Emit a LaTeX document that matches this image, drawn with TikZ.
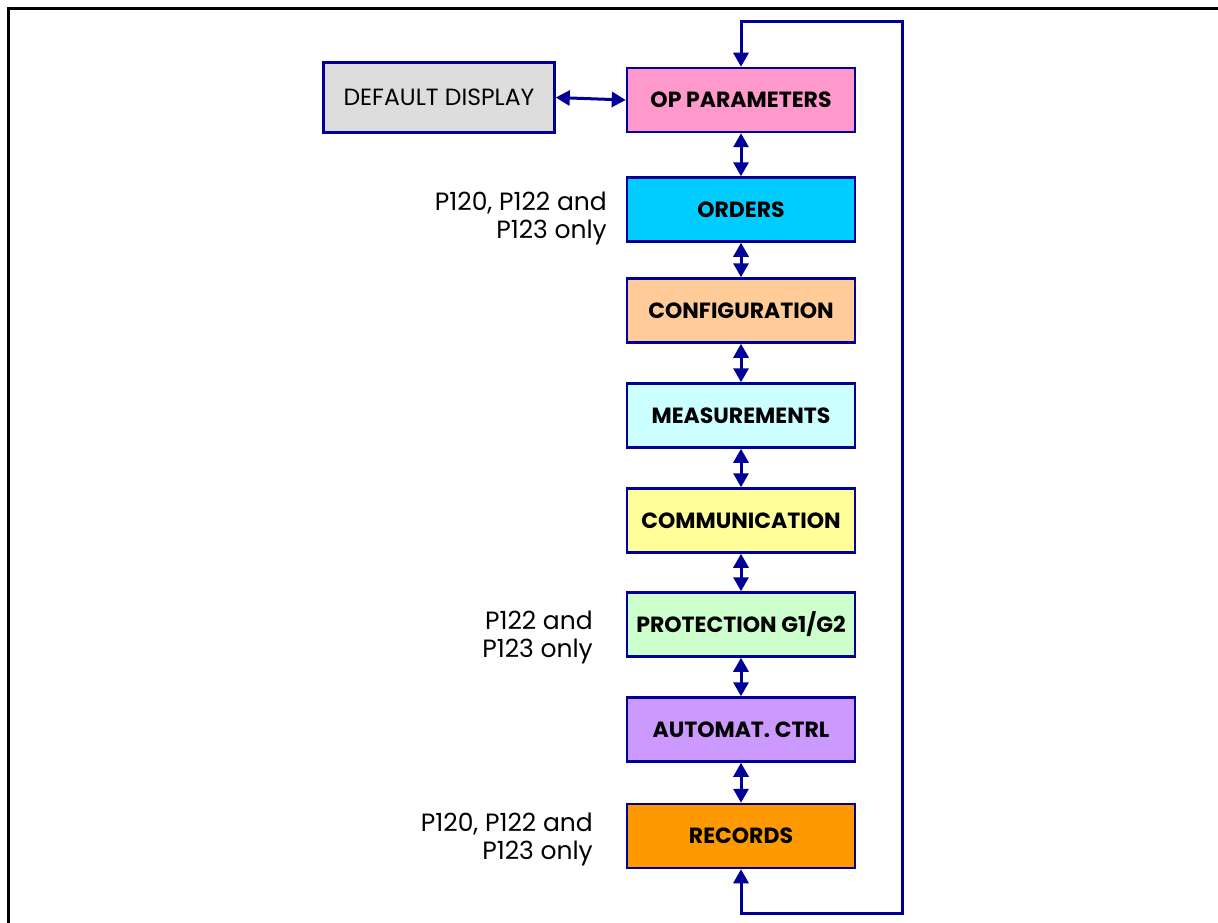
\documentclass[tikz,border=0pt]{standalone}
\usepackage{fontspec}
\setmainfont{Poppins}
\usetikzlibrary{arrows.meta}
\definecolor{navy}{HTML}{000099}
\definecolor{cdef}{HTML}{DDDDDD}
\definecolor{cop}{HTML}{FF99CC}
\definecolor{cord}{HTML}{00CCFF}
\definecolor{ccfg}{HTML}{FFCC99}
\definecolor{cmea}{HTML}{CCFFFF}
\definecolor{ccom}{HTML}{FFFF99}
\definecolor{cpro}{HTML}{CCFFCC}
\definecolor{caut}{HTML}{CC99FF}
\definecolor{crec}{HTML}{FF9900}
\tikzset{
  menubox/.style={draw=navy, line width=2.5pt, minimum width=228pt, minimum height=64pt,
    inner sep=0pt, font=\fontsize{22}{26}\selectfont\bfseries},
  defbox/.style={menubox, font=\fontsize{23.5}{27}\selectfont},
  dbl/.style={navy, line width=3pt, {Triangle[width=15pt,length=14pt]}-{Triangle[width=15pt,length=14pt]}},
  note/.style={align=right, anchor=east, font=\fontsize{25}{28}\selectfont, inner sep=0pt}
}
\begin{document}
\begin{tikzpicture}[x=1pt,y=-1pt]
\useasboundingbox (0,0) rectangle (1218,923);
\draw[line width=3pt] (8.5,923) -- (8.5,8.5) -- (1218,8.5);
\node[defbox, fill=cdef, minimum width=231pt, minimum height=70pt] (dd) at (439,97.5) {DEFAULT DISPLAY};
\node[menubox, fill=cop] (op) at (741,100) {OP PARAMETERS};
\node[menubox, fill=cord] (ord) at (741,209.5) {ORDERS};
\node[menubox, fill=ccfg] (cfg) at (741,310.5) {CONFIGURATION};
\node[menubox, fill=cmea] (mea) at (741,415.5) {MEASUREMENTS};
\node[menubox, fill=ccom] (com) at (741,520.5) {COMMUNICATION};
\node[menubox, fill=cpro] (pro) at (741,624.5) {PROTECTION G1/G2};
\node[menubox, fill=caut] (aut) at (741,729.5) {AUTOMAT. CTRL};
\node[menubox, fill=crec] (rec) at (741,836) {RECORDS};
\node[note] (n1) at (607,218) {P120, P122 and\\P123 only};
\node[note] (n2) at (593,637) {P122 and\\P123 only};
\node[note] (n3) at (593,839) {P120, P122 and\\P123 only};
\draw[dbl] (dd.east) -- (op.west);
\draw[dbl] (op.south) -- (ord.north);
\draw[dbl] (ord.south) -- (cfg.north);
\draw[dbl] (cfg.south) -- (mea.north);
\draw[dbl] (mea.south) -- (com.north);
\draw[dbl] (com.south) -- (pro.north);
\draw[dbl] (pro.south) -- (aut.north);
\draw[dbl] (aut.south) -- (rec.north);
\coordinate (tr) at (902,22);
\coordinate (br) at (902,913);
\draw[dbl] (op.north) |- (tr) -- (br) -| (rec.south);
\end{tikzpicture}
\end{document}
